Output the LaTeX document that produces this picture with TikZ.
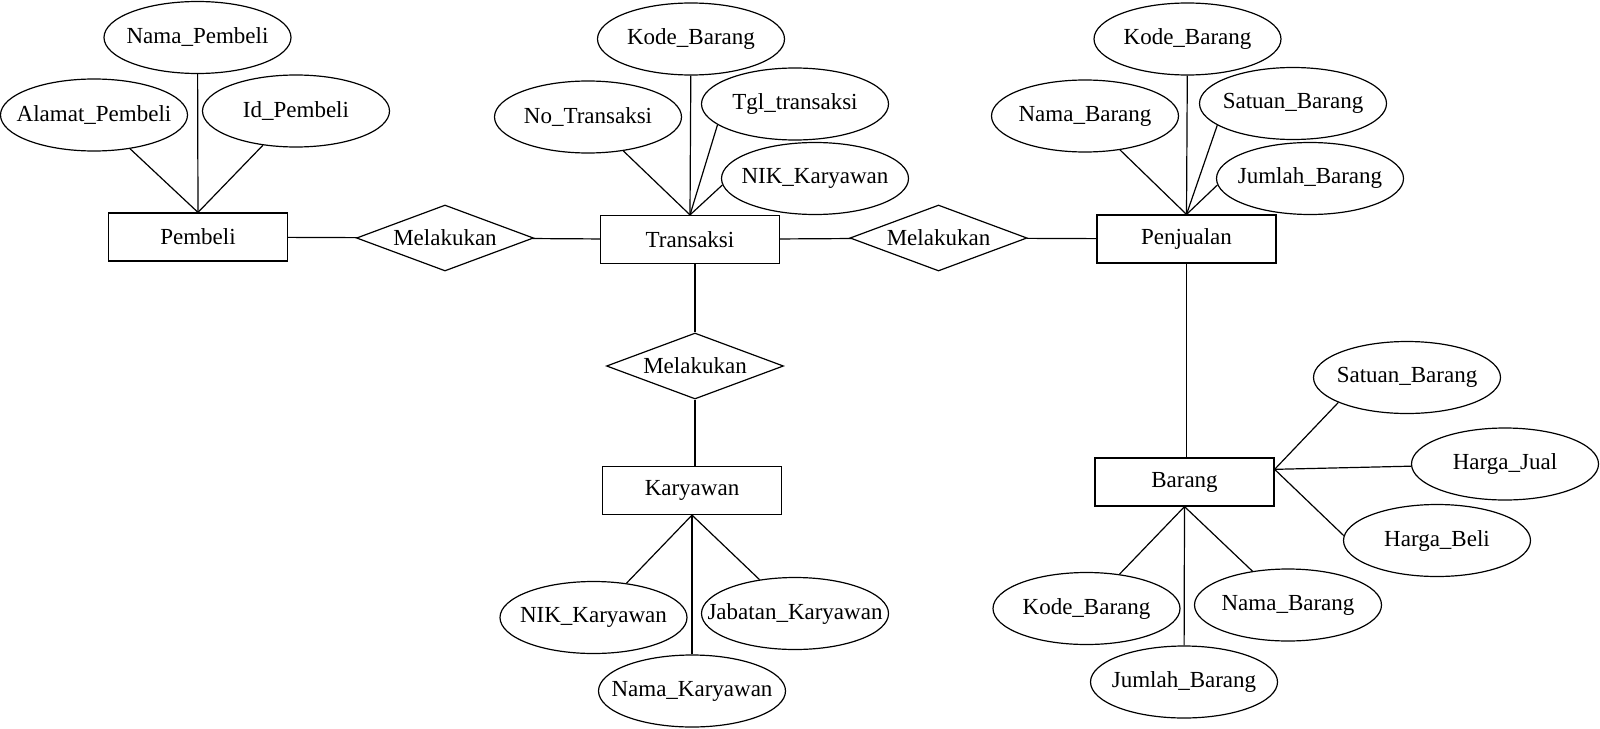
\documentclass[tikz,border=0pt]{standalone}
\usepackage{fontspec}
\setmainfont{Liberation Serif}
\usetikzlibrary{shapes.geometric}

\tikzset{
  entity/.style={draw, rectangle, minimum width=89.5pt, minimum height=24pt, inner sep=0pt},
  relation/.style={draw, diamond, aspect=2.7, minimum width=88.5pt, minimum height=33pt, inner sep=0pt},
  attr/.style={draw, ellipse, minimum width=93.5pt, minimum height=36pt, inner sep=0pt, label={center:{#1}}},
}

\begin{document}
\begin{tikzpicture}[x=0.5pt, y=-0.5pt, line width=0.6pt, font=\fontsize{11.5}{13}\selectfont]
	\useasboundingbox (0,0) rectangle (1600,728);
	% Entities
	\node[entity] (pembeli) at (198,237) {Pembeli};
	\node[entity] (transaksi) at (690,239.5) {Transaksi};
	\node[entity] (penjualan) at (1186.5,239) {Penjualan};
	\node[entity] (karyawan) at (692,490.5) {Karyawan};
	\node[entity] (barang) at (1184.5,482) {Barang};
	% Relations
	\node[relation] (mel1) at (445,238) {Melakukan};
	\node[relation] (mel2) at (938.5,238) {Melakukan};
	\node[relation] (mel3) at (695,366) {Melakukan};
	% Attributes of Pembeli
	\node[attr=Nama\_Pembeli] (namaP) at (197.5,37.5) {};
	\node[attr=Alamat\_Pembeli] (alamatP) at (94,115) {};
	\node[attr=Id\_Pembeli] (idP) at (296,111) {};
	% Attributes of Transaksi
	\node[attr=Kode\_Barang] (kodeT) at (691,39) {};
	\node[attr=No\_Transaksi] (noT) at (588,117) {};
	\node[attr=Tgl\_transaksi] (tglT) at (795,104) {};
	\node[attr=NIK\_Karyawan] (nikT) at (815,178.5) {};
	% Attributes of Penjualan
	\node[attr=Kode\_Barang] (kodePj) at (1187.5,39) {};
	\node[attr=Nama\_Barang] (namaPj) at (1085,116) {};
	\node[attr=Satuan\_Barang] (satuanPj) at (1293,103.5) {};
	\node[attr=Jumlah\_Barang] (jumlahPj) at (1310,178.5) {};
	% Attributes of Karyawan
	\node[attr=NIK\_Karyawan] (nikK) at (593.5,617.5) {};
	\node[attr=Jabatan\_Karyawan] (jabatanK) at (795,613.5) {};
	\node[attr=Nama\_Karyawan] (namaK) at (692,691) {};
	% Attributes of Barang
	\node[attr=Kode\_Barang] (kodeB) at (1086.5,608.5) {};
	\node[attr=Nama\_Barang] (namaB) at (1288,605) {};
	\node[attr=Jumlah\_Barang] (jumlahB) at (1184,682) {};
	\node[attr=Satuan\_Barang] (satuanB) at (1407,377.5) {};
	\node[attr=Harga\_Jual] (jualB) at (1505,464) {};
	\node[attr=Harga\_Beli] (beliB) at (1437,540.5) {};
	% Connect attributes
	\foreach \a in {namaP,alamatP,idP} \draw (\a) -- (pembeli.north);
	\foreach \a in {kodeT,noT,tglT.195,nikT.184} \draw (\a) -- (transaksi.north);
	\foreach \a in {kodePj,namaPj,satuanPj.196,jumlahPj.184} \draw (\a) -- (penjualan.north);
	\foreach \a in {nikK,jabatanK,namaK} \draw (\a) -- (karyawan.south);
	\foreach \a in {kodeB,namaB,jumlahB} \draw (\a) -- (barang.south);
	\foreach \a in {satuanB.200,jualB,beliB.177} \draw (\a) -- (barang.8);
	% Connect relations
	\draw (pembeli) -- (mel1) -- (transaksi) -- (mel2) -- (penjualan);
	\draw (mel3.north |- transaksi.south) -- (mel3.north);
	\draw (mel3.south) -- (mel3.south |- karyawan.north);
	\draw (penjualan.south) -- (penjualan.south |- barang.north);
\end{tikzpicture}
\end{document}
